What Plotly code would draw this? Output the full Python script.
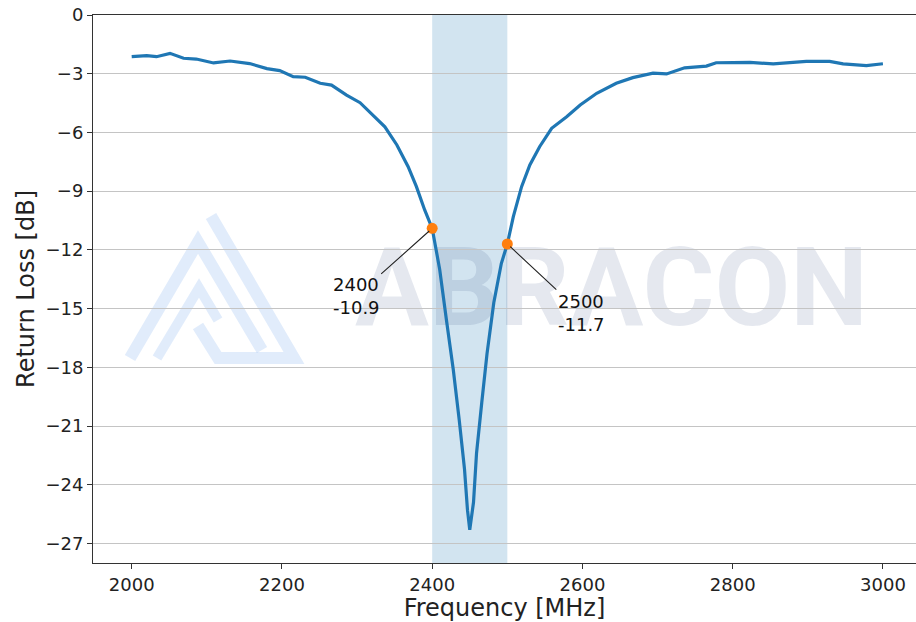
import plotly.graph_objects as go

# ---- data ----
freq_mhz = [2000, 2020, 2033, 2051, 2069, 2086, 2109, 2131, 2157, 2180, 2197, 2215, 2231,
            2251, 2266, 2286, 2304, 2321, 2337, 2353, 2368, 2379, 2390, 2400, 2410, 2419,
            2428, 2436, 2443, 2447, 2450, 2455, 2459, 2466, 2473, 2482, 2492, 2500, 2508,
            2519, 2530, 2543, 2559, 2579, 2597, 2619, 2645, 2667, 2694, 2712, 2736, 2765,
            2778, 2823, 2854, 2898, 2929, 2947, 2978, 3000]
return_loss_db = [-2.13, -2.08, -2.13, -1.96, -2.21, -2.25, -2.45, -2.35, -2.48, -2.74, -2.84,
                  -3.15, -3.18, -3.49, -3.58, -4.09, -4.48, -5.11, -5.71, -6.64, -7.75, -8.77,
                  -9.96, -10.9, -13.0, -15.6, -18.1, -20.7, -23.2, -25.3, -26.3, -24.9, -22.4,
                  -19.8, -17.3, -14.7, -12.7, -11.7, -10.3, -8.77, -7.66, -6.73, -5.79, -5.2,
                  -4.6, -4.0, -3.49, -3.2, -2.97, -3.01, -2.7, -2.61, -2.44, -2.42, -2.5,
                  -2.37, -2.37, -2.5, -2.59, -2.49]
marker_freq = [2400, 2500]
marker_rl = [-10.9, -11.7]
band = [2400, 2500]
x_ticks = [2000, 2200, 2400, 2600, 2800, 3000]
y_ticks = [0, -3, -6, -9, -12, -15, -18, -21, -24, -27]

FONT = "DejaVu Sans"

# plot-area geometry (pixels) for paper conversion of watermark
L, T, W, H = 93, 15, 823, 548
def px(x):
    return (x - L) / W
def py(y):
    return (T + H - y) / H
def path(pts):
    return "M " + " L ".join(f"{px(a):.4f},{py(b):.4f}" for a, b in pts)

fig = go.Figure()

fig.add_trace(go.Scatter(x=freq_mhz, y=return_loss_db, mode="lines",
                         line=dict(color="#1f77b4", width=3.2), showlegend=False,
                         hoverinfo="x+y"))
fig.add_trace(go.Scatter(x=marker_freq, y=marker_rl, mode="markers",
                         marker=dict(color="#ff7f0e", size=11), showlegend=False))

shapes = []
# shaded band
shapes.append(dict(type="rect", xref="x", yref="paper", x0=band[0], x1=band[1], y0=0, y1=1,
                   fillcolor="rgba(31,119,180,0.2)", line=dict(width=0), layer="below"))
# watermark logo
logo_color = "rgba(120,170,235,0.22)"
for pts, w in [
    ([(211, 216), (294, 358), (218, 358), (198, 326)], 12),
    ([(130, 358), (198, 242), (262, 350)], 12),
    ([(157, 358), (199, 288), (218, 320)], 10),
]:
    shapes.append(dict(type="path", xref="paper", yref="paper", path=path(pts),
                       line=dict(color=logo_color, width=w), layer="below"))
# watermark text
shapes.append(dict(type="rect", xref="paper", yref="paper",
                   x0=px(355), x1=px(868), y0=py(324), y1=py(234),
                   line=dict(width=0), fillcolor="rgba(0,0,0,0)", layer="below",
                   label=dict(text="ABRACON", textposition="middle center",
                              font=dict(family="Roboto", size=110, weight="bold",
                                        color="rgba(30,50,110,0.115)"))))

annotations = []
for fx, fy, ax, ay in zip(marker_freq, marker_rl, [-76, 74], [68, 69]):
    annotations.append(dict(x=fx, y=fy, xref="x", yref="y", text=f"{fx}<br>{fy}",
                            align="left", showarrow=True, arrowhead=0, arrowwidth=1.1,
                            arrowcolor="#222", ax=ax, ay=ay, standoff=4,
                            font=dict(family=FONT, size=18, color="#111")))

fig.update_layout(
    width=916, height=622,
    margin=dict(l=L, r=0, t=T, b=622 - T - H),
    paper_bgcolor="white", plot_bgcolor="white",
    shapes=shapes, annotations=annotations,
    font=dict(family=FONT, size=18, color="#222"),
)
fig.update_xaxes(range=[1948.5, 3044], tickvals=x_ticks, showgrid=False,
                 showline=True, linecolor="#333", linewidth=1, mirror=True,
                 ticks="outside", ticklen=5, tickcolor="#333",
                 tickfont=dict(family=FONT, size=18, color="#222"),
                 title=dict(text="Frequency [MHz]", font=dict(family=FONT, size=24, color="#222"),
                            standoff=6),
                 zeroline=False, automargin=False)
fig.update_yaxes(range=[-28, 0], tickvals=y_ticks, showgrid=True, gridcolor="#c4c4c4",
                 gridwidth=1, showline=True, linecolor="#333", linewidth=1, mirror=True,
                 ticks="outside", ticklen=5, tickcolor="#333",
                 tickfont=dict(family=FONT, size=18, color="#222"),
                 title=dict(text="Return Loss [dB]", font=dict(family=FONT, size=24, color="#222"),
                            standoff=4),
                 zeroline=False, automargin=False)

fig.write_html("out.html", config=dict(displayModeBar=False),
               post_script="document.body.style.margin='0';document.body.style.overflow='hidden';")
